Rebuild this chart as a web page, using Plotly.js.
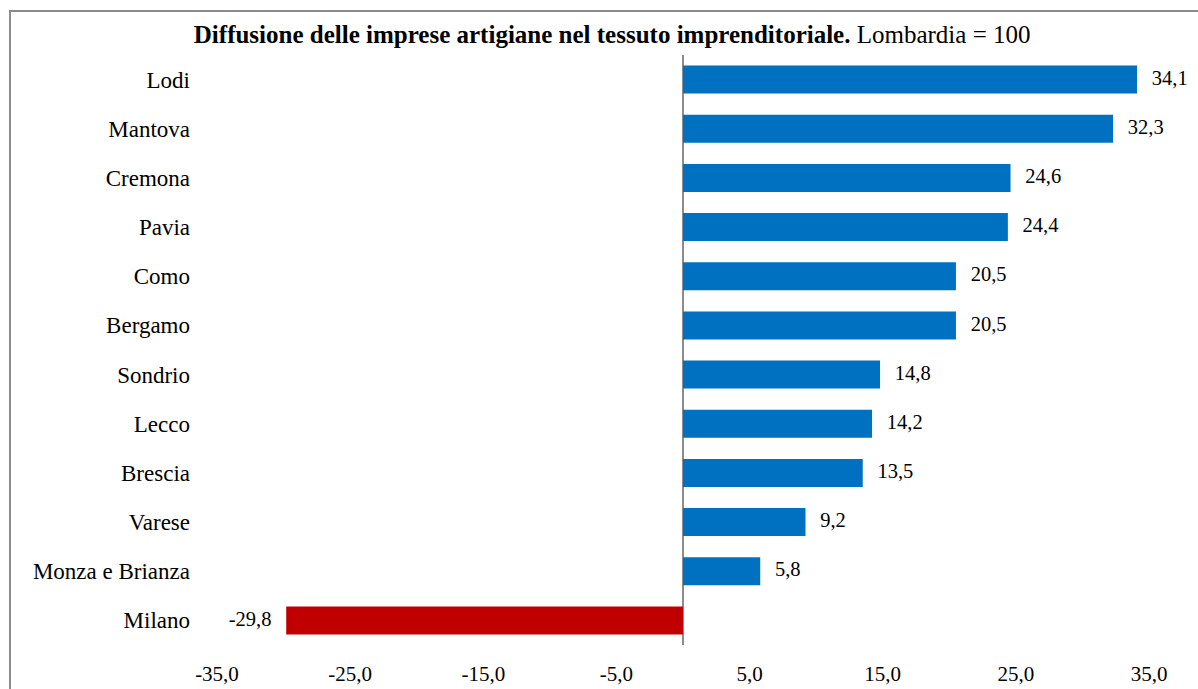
<!DOCTYPE html>
<html>
<head>
<meta charset="utf-8">
<script src="https://cdn.plot.ly/plotly-3.0.1.min.js"></script>
<style>
  html, body { margin: 0; padding: 0; background: #fff; }
  #wrap { position: relative; width: 1198px; height: 689px; overflow: hidden; }
  #chart { position: absolute; left: 0; top: 0; width: 1198px; height: 689px; }
  .bl { position: absolute; background: #8c8c8c; pointer-events: none; }
</style>
</head>
<body>
<div id="wrap">
  <div id="chart"></div>
  <div class="bl" style="left:9px; top:10px; width:1189px; height:2px;"></div>
  <div class="bl" style="left:9px; top:10px; width:2px; height:679px;"></div>
</div>
<script>
const categories = ["Lodi", "Mantova", "Cremona", "Pavia", "Como", "Bergamo", "Sondrio", "Lecco", "Brescia", "Varese", "Monza e Brianza", "Milano"];
const values = [34.1, 32.3, 24.6, 24.4, 20.5, 20.5, 14.8, 14.2, 13.5, 9.2, 5.8, -29.8];
const tickValues = [-35, -25, -15, -5, 5, 15, 25, 35];
const tickLabels = ["-35,0", "-25,0", "-15,0", "-5,0", "5,0", "15,0", "25,0", "35,0"];

const fmt = v => v.toFixed(1).replace(".", ",");
const FONT = "'Liberation Serif', 'Times New Roman', serif";

const bars = {
  type: "bar",
  orientation: "h",
  y: categories,
  x: values,
  marker: { color: values.map(v => v < 0 ? "#C00000" : "#0070C0") },
  width: 0.57,
  hoverinfo: "skip",
  showlegend: false
};

const labels = {
  type: "scatter",
  mode: "markers+text",
  y: categories,
  x: values,
  text: values.map(fmt),
  textposition: values.map(v => v < 0 ? "middle left" : "middle right"),
  textfont: { family: FONT, size: 20.5, color: "#000" },
  marker: { size: 22, color: "rgba(0,0,0,0)" },
  cliponaxis: false,
  hoverinfo: "skip",
  showlegend: false
};

const layout = {
  width: 1198,
  height: 689,
  margin: { l: 217, r: 49, t: 55, b: 44 },
  paper_bgcolor: "#fff",
  plot_bgcolor: "#fff",
  font: { family: FONT, color: "#000" },
  title: {
    text: "<b>Diffusione delle imprese artigiane nel tessuto imprenditoriale.</b> Lombardia = 100",
    font: { family: FONT, size: 25, color: "#000" },
    xref: "paper", x: 0.424, xanchor: "center",
    yref: "container", y: 0.951, yanchor: "middle",
    automargin: false
  },
  xaxis: {
    range: [-35, 35],
    tickvals: tickValues,
    ticktext: tickLabels,
    showgrid: false,
    zeroline: true,
    zerolinecolor: "#8c8c8c",
    zerolinewidth: 2,
    showline: false,
    ticks: "",
    ticklabelstandoff: 14,
    automargin: false,
    tickfont: { family: FONT, size: 21, color: "#000" },
    fixedrange: true
  },
  yaxis: {
    type: "category",
    range: [11.5, -0.5],
    showgrid: false,
    zeroline: false,
    showline: false,
    ticks: "",
    ticklabelstandoff: 26,
    automargin: false,
    tickfont: { family: FONT, size: 23, color: "#000" },
    fixedrange: true
  },
  bargap: 0.43
};

Plotly.newPlot("chart", [bars, labels], layout, { displayModeBar: false, staticPlot: true });
</script>
</body>
</html>
